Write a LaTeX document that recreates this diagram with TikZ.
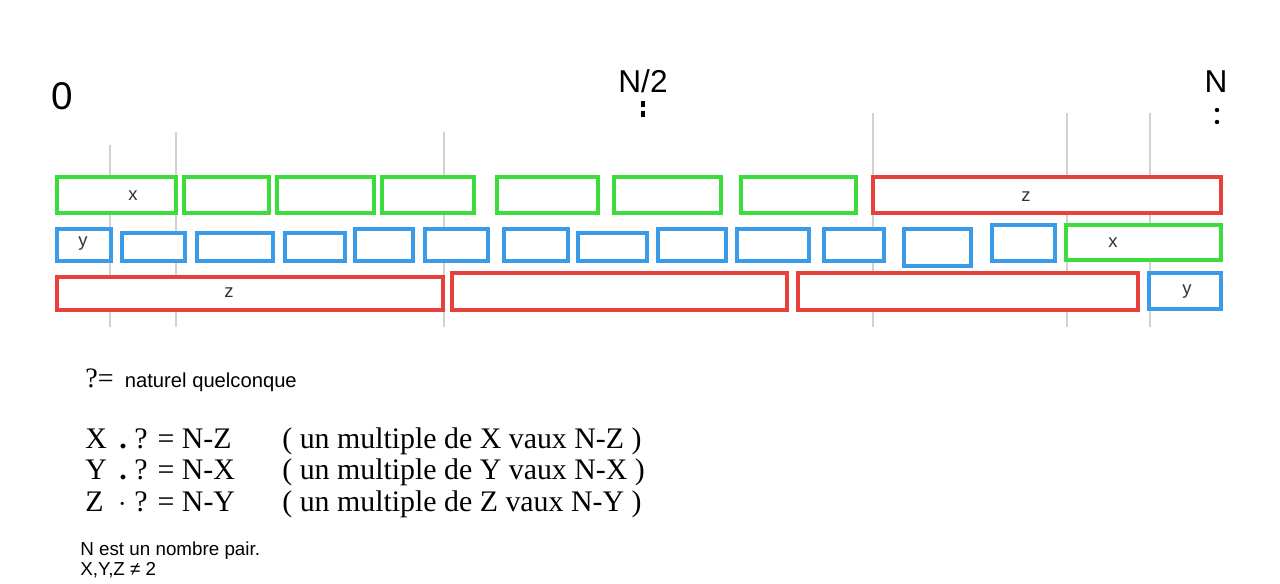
\documentclass[tikz,border=0pt]{standalone}
\usepackage{fontspec}
\setmainfont{Liberation Sans}
\newfontfamily\timesfont{Liberation Serif}
\usetikzlibrary{positioning}

\definecolor{xgreen}{HTML}{3DDC3D}
\definecolor{yblue}{HTML}{3A9BE8}
\definecolor{zred}{HTML}{E8413C}
\definecolor{tickgray}{HTML}{D2D2D2}

\tikzset{
  xbox/.style={draw=xgreen, line width=2.2pt, fill=white},
  ybox/.style={draw=yblue, line width=2.2pt, fill=white},
  zbox/.style={draw=zred, line width=2.2pt, fill=white},
  gridline/.style={draw=tickgray, line width=1.3pt},
  boxlabel/.style={font=\fontsize{10.5}{12}\selectfont, text=black!80},
  scalelabel/.style={font=\fontsize{18}{20}\selectfont, inner sep=0pt},
  formula/.style={font=\timesfont\fontsize{17}{20}\selectfont, anchor=base west, inner sep=0pt,
    text height=1.5ex, text depth=0.2ex},
  note/.style={font=\fontsize{10.7}{13}\selectfont, anchor=base west, inner sep=0pt,
    text height=1.6ex, text depth=0.2ex}
}

\begin{document}
\begin{tikzpicture}[x=0.02cm, y=-0.02cm]
  \useasboundingbox (0,0) rectangle (1280,584);

  % grey marks behind the rows
  \draw[gridline] (110,145) -- (110,327);
  \foreach \gx in {176,444} \draw[gridline] (\gx,132) -- (\gx,327);
  \foreach \gx in {873,1067,1150} \draw[gridline] (\gx,113) -- (\gx,327);

  % row 1 : multiples of x, then z
  \foreach \a/\b in {57/176,184/269,277/374,382/474,497/598,614/721,741/856}
    \draw[xbox] (\a,177) rectangle (\b,213);
  \draw[zbox] (873,177) rectangle (1221,213);

  % row 2 : multiples of y, then x
  \foreach \a/\b/\t/\u in {57/111/229/261,122/185/233/261,197/273/233/261,285/345/233/261,
      355/413/229/261,425/488/229/261,504/568/229/261,578/647/233/261,658/726/229/261,
      737/809/229/261,824/884/229/261,904/971/229/266,992/1055/225/261}
    \draw[ybox] (\a,\t) rectangle (\b,\u);
  \draw[xbox] (1066,225) rectangle (1221,260);

  % row 3 : multiples of z, then y
  \draw[zbox] (57,277) rectangle (443,310);
  \draw[zbox] (452,273) rectangle (787,310);
  \draw[zbox] (798,273) rectangle (1138,310);
  \draw[ybox] (1149,273) rectangle (1221,309);

  \node[boxlabel] (lx1) at (133,196) {x};
  \node[boxlabel] (lz1) at (1026,197) {z};
  \node[boxlabel] (ly2) at (83,244) {y};
  \node[boxlabel] (lx2) at (1113,243) {x};
  \node[boxlabel] (lz3) at (229,293) {z};
  \node[boxlabel] (ly3) at (1187,292) {y};

  % scale marks
  \node[scalelabel, font=\fontsize{22}{24}\selectfont] (zero) at (62,96) {0};
  \node[scalelabel] (half) at (643,81) {N/2};
  \node[scalelabel] (full) at (1216,82) {N};
  \draw[line width=1.8pt] (643,101) -- (643,107) (643,111) -- (643,117);
  \fill (1217,110) circle (2.2) (1217,122) circle (2.2);

  % text
  \node[note, font=\fontsize{11.5}{13}\selectfont] (anyn) at (85,387)
    {{\timesfont\fontsize{16}{18}\selectfont ?=}\ \ naturel quelconque};
  \node[formula] (f1) at (85,448) {X\, {\bfseries.}\ ? = N-Z};
  \node[formula] (f2) at (85,479) {Y\, {\bfseries.}\ ? = N-X};
  \node[formula] (f3) at (85,511) {Z\ \ $\cdot$ ? = N-Y};
  \node[formula] (g1) at (282,448) {( un multiple de X vaux N-Z )};
  \node[formula] (g2) at (282,479) {( un multiple de Y vaux N-X )};
  \node[formula] (g3) at (282,511) {( un multiple de Z vaux N-Y )};
  \node[note] (pair) at (80,555) {N est un nombre pair.};
  \node[note] (neq) at (80,575) {X,Y,Z ≠ 2};
\end{tikzpicture}
\end{document}
